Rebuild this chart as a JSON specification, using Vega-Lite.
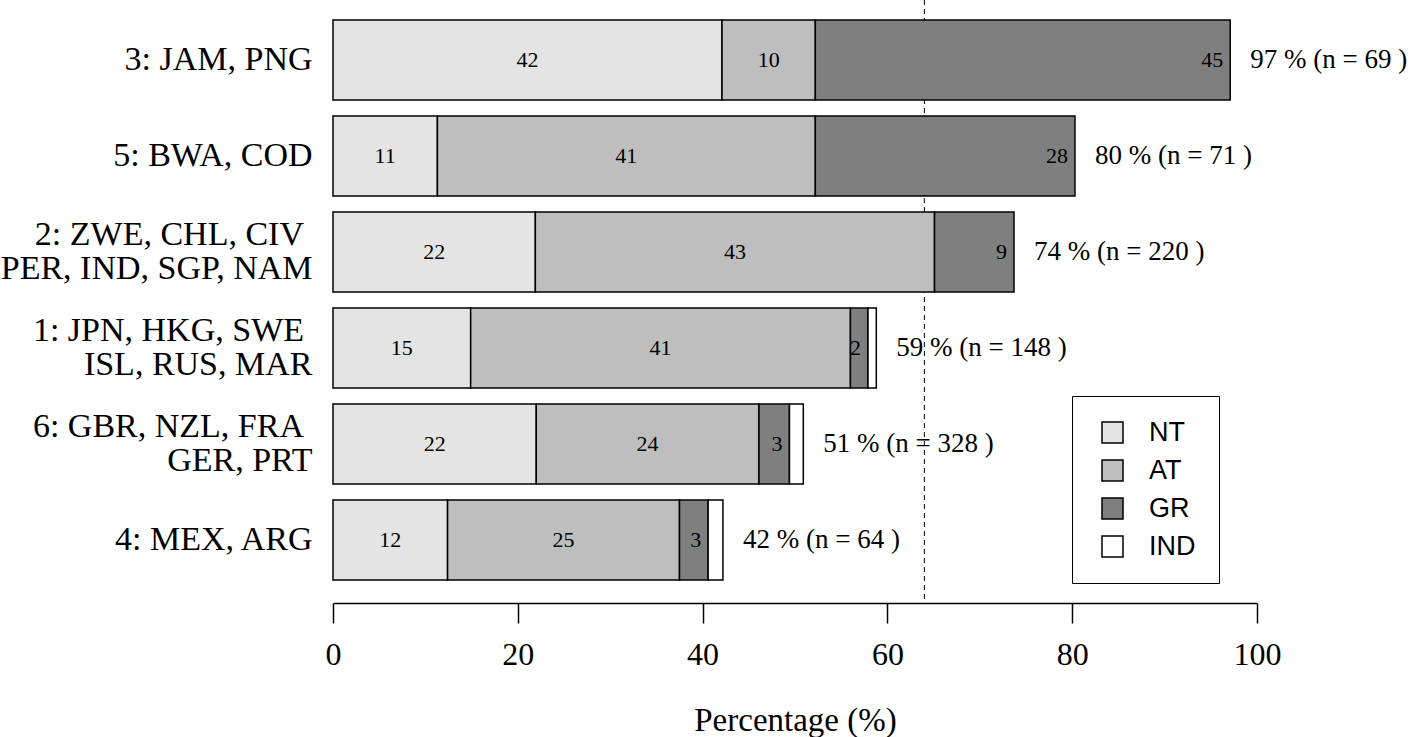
{
  "$schema": "https://vega.github.io/schema/vega-lite/v6.json",
  "width": 924,
  "height": 603,
  "autosize": {"type": "none"},
  "padding": {"left": 333, "top": 0, "right": 161, "bottom": 134},
  "background": "white",
  "config": {
    "view": {"stroke": null},
    "font": "Liberation Serif",
    "axisX": {
      "grid": false,
      "domainColor": "black",
      "domainWidth": 1.5,
      "tickColor": "black",
      "tickWidth": 1.5,
      "tickSize": 20,
      "labelFont": "Liberation Serif",
      "labelFontSize": 32,
      "labelColor": "black",
      "labelPadding": 16,
      "labelFlush": false,
      "titleFont": "Liberation Serif",
      "titleFontSize": 33,
      "titleFontWeight": "normal",
      "titleColor": "black",
      "titlePadding": 34
    },
    "axisY": {
      "domain": false,
      "ticks": false,
      "grid": false,
      "labelPadding": 21,
      "labelFont": "Liberation Serif",
      "labelFontSize": 34,
      "labelColor": "black",
      "labelLimit": 0,
      "labelLineHeight": 34,
      "labelAlign": "right",
      "labelBaseline": "middle"
    }
  },
  "datasets": {
    "shares": [
      {"group": "3: JAM, PNG", "type": "NT", "value": 42.1},
      {"group": "3: JAM, PNG", "type": "AT", "value": 10.1},
      {"group": "3: JAM, PNG", "type": "GR", "value": 44.9},
      {"group": "5: BWA, COD", "type": "NT", "value": 11.3},
      {"group": "5: BWA, COD", "type": "AT", "value": 40.9},
      {"group": "5: BWA, COD", "type": "GR", "value": 28.1},
      {"group": "2: ZWE, CHL, CIV\u00a0\u200b|PER, IND, SGP, NAM", "type": "NT", "value": 21.9},
      {"group": "2: ZWE, CHL, CIV\u00a0\u200b|PER, IND, SGP, NAM", "type": "AT", "value": 43.2},
      {"group": "2: ZWE, CHL, CIV\u00a0\u200b|PER, IND, SGP, NAM", "type": "GR", "value": 8.6},
      {"group": "1: JPN, HKG, SWE\u00a0\u200b|ISL, RUS, MAR", "type": "NT", "value": 14.9},
      {"group": "1: JPN, HKG, SWE\u00a0\u200b|ISL, RUS, MAR", "type": "AT", "value": 41.1},
      {"group": "1: JPN, HKG, SWE\u00a0\u200b|ISL, RUS, MAR", "type": "GR", "value": 1.9},
      {"group": "1: JPN, HKG, SWE\u00a0\u200b|ISL, RUS, MAR", "type": "IND", "value": 0.9},
      {"group": "6: GBR, NZL, FRA\u00a0\u200b|GER, PRT", "type": "NT", "value": 22.0},
      {"group": "6: GBR, NZL, FRA\u00a0\u200b|GER, PRT", "type": "AT", "value": 24.1},
      {"group": "6: GBR, NZL, FRA\u00a0\u200b|GER, PRT", "type": "GR", "value": 3.3},
      {"group": "6: GBR, NZL, FRA\u00a0\u200b|GER, PRT", "type": "IND", "value": 1.5},
      {"group": "4: MEX, ARG", "type": "NT", "value": 12.4},
      {"group": "4: MEX, ARG", "type": "AT", "value": 25.1},
      {"group": "4: MEX, ARG", "type": "GR", "value": 3.1},
      {"group": "4: MEX, ARG", "type": "IND", "value": 1.6}
    ],
    "counts": [
      {"group": "3: JAM, PNG", "n": 69},
      {"group": "5: BWA, COD", "n": 71},
      {"group": "2: ZWE, CHL, CIV\u00a0\u200b|PER, IND, SGP, NAM", "n": 220},
      {"group": "1: JPN, HKG, SWE\u00a0\u200b|ISL, RUS, MAR", "n": 148},
      {"group": "6: GBR, NZL, FRA\u00a0\u200b|GER, PRT", "n": 328},
      {"group": "4: MEX, ARG", "n": 64}
    ]
  },
  "layer": [
    {
      "data": {"values": [{}]},
      "mark": {"type": "rule", "color": "black", "strokeWidth": 1, "strokeDash": [5, 4]},
      "encoding": {
        "x": {"datum": 64, "type": "quantitative", "title": "Percentage (%)", "scale": {"domain": [0, 100], "nice": false}, "axis": {"values": [0, 20, 40, 60, 80, 100]}}
      }
    },
    {
      "data": {"name": "shares"},
      "transform": [
        {"calculate": "indexof(['NT','AT','GR','IND'], datum.type)", "as": "ord"},
        {"stack": "value", "groupby": ["group"], "sort": [{"field": "ord", "order": "ascending"}], "as": ["v0", "v1"]}
      ],
      "mark": {"type": "bar", "stroke": "black", "strokeWidth": 1.5},
      "encoding": {
        "y": {
          "field": "group", "type": "nominal", "title": null,
          "sort": ["3: JAM, PNG", "5: BWA, COD", "2: ZWE, CHL, CIV\u00a0\u200b|PER, IND, SGP, NAM", "1: JPN, HKG, SWE\u00a0\u200b|ISL, RUS, MAR", "6: GBR, NZL, FRA\u00a0\u200b|GER, PRT", "4: MEX, ARG"],
          "scale": {"paddingInner": 0.16667, "paddingOuter": 0.22396, "align": 0.4651},
          "axis": {"labelExpr": "split(datum.label, '|')", "labelOffset": {"condition": {"test": "indexof(datum.value, '|') >= 0", "value": -17}, "value": 0}}
        },
        "x": {"field": "v0", "type": "quantitative", "title": "Percentage (%)", "scale": {"domain": [0, 100], "nice": false}, "axis": {"values": [0, 20, 40, 60, 80, 100]}},
        "x2": {"field": "v1"},
        "color": {
          "field": "type", "type": "nominal",
          "scale": {"domain": ["NT", "AT", "GR", "IND"], "range": ["#e4e4e4", "#bebebe", "#7f7f7f", "#ffffff"]},
          "legend": {
            "title": null,
            "orient": "none",
            "legendX": 739,
            "legendY": 396,
            "direction": "vertical",
            "strokeColor": "black",
            "padding": 23,
            "symbolType": "square",
            "symbolSize": 441,
            "symbolStrokeColor": "black",
            "symbolStrokeWidth": 1.5,
            "symbolOpacity": 1,
            "symbolOffset": 4,
            "labelFont": "Liberation Sans",
            "labelFontSize": 27,
            "labelColor": "black",
            "labelOffset": 23,
            "rowPadding": 10
          }
        }
      }
    },
    {
      "data": {"name": "shares"},
      "transform": [
        {"calculate": "indexof(['NT','AT','GR','IND'], datum.type)", "as": "ord"},
        {"stack": "value", "groupby": ["group"], "sort": [{"field": "ord", "order": "ascending"}], "as": ["v0", "v1"]},
        {"filter": "datum.type == 'NT' || datum.type == 'AT'"},
        {"calculate": "(datum.v0 + datum.v1) / 2", "as": "mid"}
      ],
      "mark": {"type": "text", "font": "Liberation Serif", "fontSize": 22, "color": "black", "align": "center", "baseline": "middle"},
      "encoding": {
        "y": {
          "field": "group", "type": "nominal", "title": null,
          "sort": ["3: JAM, PNG", "5: BWA, COD", "2: ZWE, CHL, CIV\u00a0\u200b|PER, IND, SGP, NAM", "1: JPN, HKG, SWE\u00a0\u200b|ISL, RUS, MAR", "6: GBR, NZL, FRA\u00a0\u200b|GER, PRT", "4: MEX, ARG"],
          "axis": {"labelExpr": "split(datum.label, '|')", "labelOffset": {"condition": {"test": "indexof(datum.value, '|') >= 0", "value": -17}, "value": 0}}
        },
        "x": {"field": "mid", "type": "quantitative", "title": "Percentage (%)"},
        "text": {"field": "value", "type": "quantitative", "format": ".0f"}
      }
    },
    {
      "data": {"name": "shares"},
      "transform": [
        {"calculate": "indexof(['NT','AT','GR','IND'], datum.type)", "as": "ord"},
        {"stack": "value", "groupby": ["group"], "sort": [{"field": "ord", "order": "ascending"}], "as": ["v0", "v1"]},
        {"filter": "datum.type == 'GR'"}
      ],
      "mark": {"type": "text", "font": "Liberation Serif", "fontSize": 22, "color": "black", "align": "right", "baseline": "middle", "dx": -7},
      "encoding": {
        "y": {
          "field": "group", "type": "nominal", "title": null,
          "sort": ["3: JAM, PNG", "5: BWA, COD", "2: ZWE, CHL, CIV\u00a0\u200b|PER, IND, SGP, NAM", "1: JPN, HKG, SWE\u00a0\u200b|ISL, RUS, MAR", "6: GBR, NZL, FRA\u00a0\u200b|GER, PRT", "4: MEX, ARG"],
          "axis": {"labelExpr": "split(datum.label, '|')", "labelOffset": {"condition": {"test": "indexof(datum.value, '|') >= 0", "value": -17}, "value": 0}}
        },
        "x": {"field": "v1", "type": "quantitative", "title": "Percentage (%)"},
        "text": {"field": "value", "type": "quantitative", "format": ".0f"}
      }
    },
    {
      "data": {"name": "shares"},
      "transform": [
        {"aggregate": [{"op": "sum", "field": "value", "as": "total"}], "groupby": ["group"]},
        {"lookup": "group", "from": {"data": {"name": "counts"}, "key": "group", "fields": ["n"]}},
        {"calculate": "format(datum.total, '.0f') + ' % (n = ' + datum.n + ' )'", "as": "lab"}
      ],
      "mark": {"type": "text", "font": "Liberation Serif", "fontSize": 27, "color": "black", "align": "left", "baseline": "middle", "dx": 20},
      "encoding": {
        "y": {
          "field": "group", "type": "nominal", "title": null,
          "sort": ["3: JAM, PNG", "5: BWA, COD", "2: ZWE, CHL, CIV\u00a0\u200b|PER, IND, SGP, NAM", "1: JPN, HKG, SWE\u00a0\u200b|ISL, RUS, MAR", "6: GBR, NZL, FRA\u00a0\u200b|GER, PRT", "4: MEX, ARG"],
          "axis": {"labelExpr": "split(datum.label, '|')", "labelOffset": {"condition": {"test": "indexof(datum.value, '|') >= 0", "value": -17}, "value": 0}}
        },
        "x": {"field": "total", "type": "quantitative", "title": "Percentage (%)"},
        "text": {"field": "lab", "type": "nominal"}
      }
    }
  ]
}
